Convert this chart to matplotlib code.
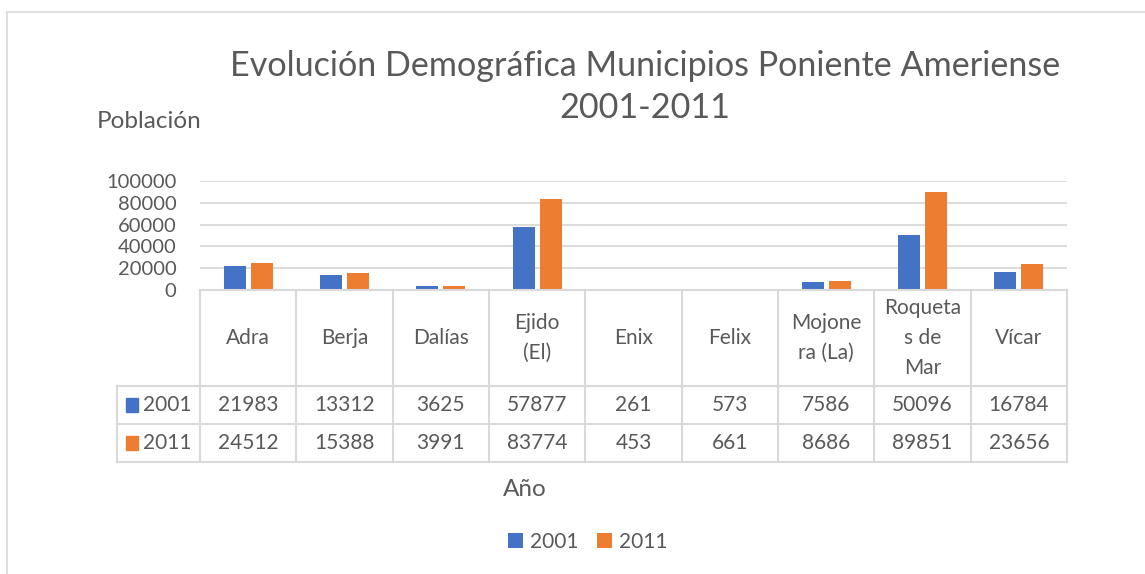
import matplotlib.pyplot as plt
import matplotlib.patches as mpatches
import numpy as np

municipios = ['Adra', 'Berja', 'Dalías', 'Ejido\n(El)', 'Enix', 'Felix',
              'Mojone\nra (La)', 'Roqueta\ns de\nMar', 'Vícar']
pob_2001 = [21983, 13312, 3625, 57877, 261, 573, 7586, 50096, 16784]
pob_2011 = [24512, 15388, 3991, 83774, 453, 661, 8686, 89851, 23656]
series = ['2001', '2011']
colores = ['#4472C4', '#ED7D31']
yticks = [0, 20000, 40000, 60000, 80000, 100000]

plt.rcParams['font.family'] = ['Lato', 'DejaVu Sans']
gris = '#595959'
linea = '#D9D9D9'

W, H = 1145, 574
fig = plt.figure(figsize=(W / 100, H / 100), dpi=100)


def rect(x0, y0, x1, y1):
    # pixel box (top-left origin) -> figure fraction
    return [x0 / W, 1 - y1 / H, (x1 - x0) / W, (y1 - y0) / H]


# chart frame (only top/left edges visible in the crop)
fig.patches.append(mpatches.Rectangle((7 / W, -0.1), 2, 1 - 12 / H + 0.1,
                                      transform=fig.transFigure, fill=False,
                                      edgecolor=linea, lw=1.2))

ax = fig.add_axes(rect(200, 181, 1067, 290))
x = np.arange(len(municipios))
w = 0.23
ax.bar(x - 0.14, pob_2001, w, color=colores[0], label=series[0])
ax.bar(x + 0.14, pob_2011, w, color=colores[1], label=series[1])
ax.set_xlim(-0.5, len(municipios) - 0.5)
ax.set_ylim(0, 100000)
ax.set_yticks(yticks)
ax.set_yticklabels([str(v) for v in yticks])
ax.tick_params(axis='y', length=0, labelsize=14.5, labelcolor=gris, pad=17)
ax.set_xticks([])
ax.grid(axis='y', color=linea, lw=1.3)
ax.set_axisbelow(True)
for s in ax.spines.values():
    s.set_visible(False)

# data table under the chart
tb = fig.add_axes(rect(200, 290, 1067, 462))
tb.set_xlim(-0.5, len(municipios) - 0.5)
tb.set_ylim(172, 0)
tb.axis('off')
xl = -0.5 - 83 / 96.33
kw = dict(color=linea, lw=1.5, clip_on=False)
tb.plot([-0.5, len(municipios) - 0.5], [0, 0], **kw)
for yy in (96, 134, 172):
    tb.plot([xl, len(municipios) - 0.5], [yy, yy], **kw)
tb.plot([xl, xl], [96, 172], **kw)
for i in range(len(municipios) + 1):
    tb.plot([i - 0.5, i - 0.5], [0, 172], **kw)
fs = 15
for i, m in enumerate(municipios):
    tb.text(i, 48, m, ha='center', va='center', fontsize=fs, color=gris,
            linespacing=1.6)
    tb.text(i, 115, str(pob_2001[i]), ha='center', va='center',
            fontsize=fs, color=gris)
    tb.text(i, 153, str(pob_2011[i]), ha='center', va='center',
            fontsize=fs, color=gris)
for k, yy in enumerate((115, 153)):
    tb.add_patch(mpatches.Rectangle((xl + 0.09, yy - 7), 0.13, 14,
                                    color=colores[k], clip_on=False))
    tb.text(xl + 0.27, yy, series[k], ha='left', va='center',
            fontsize=fs, color=gris)

fig.text(645 / W, 1 - 87 / H, 'Evolución Demográfica Municipios Poniente Ameriense\n2001-2011',
         ha='center', va='center', fontsize=24.6, color=gris, linespacing=1.4)
fig.text(149 / W, 1 - 122 / H, 'Población', ha='center', va='center',
         fontsize=17.5, color=gris)
fig.text(525 / W, 1 - 490 / H, 'Año', ha='center', va='center',
         fontsize=17.5, color=gris)

fig.legend(loc='center', bbox_to_anchor=(588 / W, 1 - 542 / H), ncol=2,
           frameon=False, fontsize=15, labelcolor=gris, handlelength=0.7,
           handleheight=0.7, handletextpad=0.35, columnspacing=0.9)

fig.savefig('out.png', dpi=100, facecolor='white')
